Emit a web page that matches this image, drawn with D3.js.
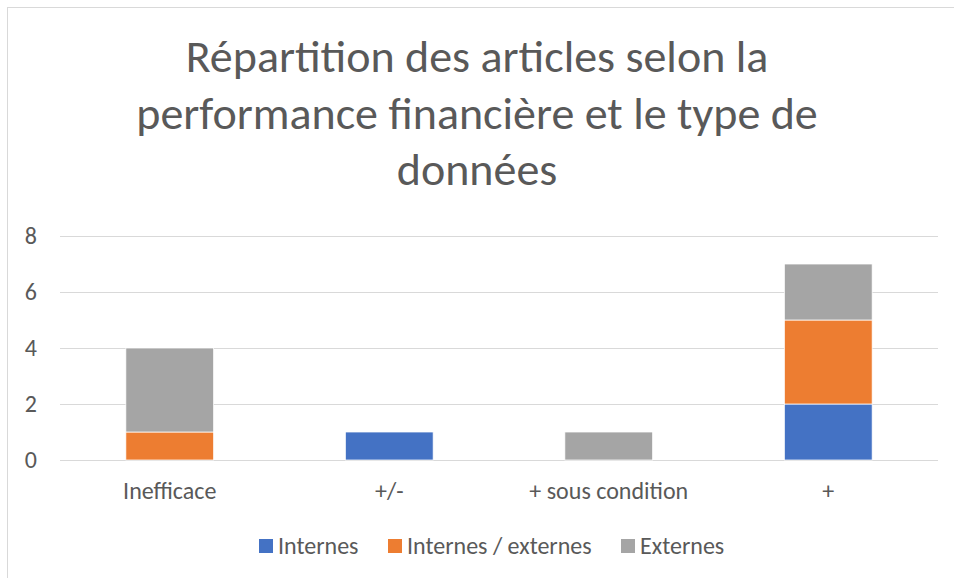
<!DOCTYPE html>
<html>
<head>
<meta charset="utf-8">
<script src="https://cdn.jsdelivr.net/npm/d3@7"></script>
<style>
  body { margin: 0; background: #fff; }
  svg text { font-family: "Carlito", "Liberation Sans", "Open Sans", sans-serif; fill: #595959; }
</style>
</head>
<body>
<div id="chart"></div>
<script>
// data
var categories = ['Inefficace', '+/-', '+ sous condition', '+']
var seriesNames = ['Internes', 'Internes / externes', 'Externes']
var internes = [0, 1, 0, 2]
var internesExternes = [1, 0, 0, 3]
var externes = [3, 0, 1, 2]
var yTicks = [0, 2, 4, 6, 8]
var colors = ['#4472C4', '#ED7D31', '#A5A5A5']
var titleLines = ['Répartition des articles selon la', 'performance financière et le type de', 'données']

var W = 954, H = 578
var svg = d3.select('#chart').append('svg')
  .attr('width', W).attr('height', H)

// chart border
svg.append('rect')
  .attr('x', 7.5).attr('y', 7.5)
  .attr('width', W + 10).attr('height', H + 10)
  .style('fill', '#fff').style('stroke', '#d9d9d9').style('stroke-width', 1)

// title
svg.append('g').selectAll('text')
  .data(titleLines).enter().append('text')
  .attr('x', 477).attr('y', function(d, i){ return 72 + i * 56.5 })
  .attr('text-anchor', 'middle')
  .style('font-size', '46px')
  .text(function(d){ return d })

var x = d3.scaleBand().domain(categories).range([60, 938]).paddingInner(0.6).paddingOuter(0.3)
var y = d3.scaleLinear().domain([0, 8]).range([460, 236])

// gridlines
svg.append('g').selectAll('line')
  .data(yTicks).enter().append('line')
  .attr('x1', 60).attr('x2', 938)
  .attr('y1', function(d){ return Math.round(y(d)) + 0.5 })
  .attr('y2', function(d){ return Math.round(y(d)) + 0.5 })
  .style('stroke', '#d9d9d9').style('stroke-width', 1)

// y labels
svg.append('g').selectAll('text')
  .data(yTicks).enter().append('text')
  .attr('x', 37).attr('y', function(d){ return y(d) })
  .attr('dy', '0.33em')
  .attr('text-anchor', 'end')
  .style('font-size', '24px')
  .text(function(d){ return d })

// stacked bars
var rows = categories.map(function(c, i){
  return { cat: c, Internes: internes[i], 'Internes / externes': internesExternes[i], Externes: externes[i] }
})
var stack = d3.stack().keys(seriesNames)(rows)

svg.append('g').selectAll('g')
  .data(stack).enter().append('g')
  .style('fill', function(d, i){ return colors[i] })
  .selectAll('rect')
  .data(function(d){ return d.filter(function(p){ return p[1] > p[0] }) })
  .enter().append('rect')
  .attr('x', function(d){ return x(d.data.cat) })
  .attr('width', x.bandwidth())
  .attr('y', function(d){ return y(d[1]) })
  .attr('height', function(d){ return y(d[0]) - y(d[1]) })
  .style('stroke', '#fff').style('stroke-width', 0.75)

// category labels
svg.append('g').selectAll('text')
  .data(categories).enter().append('text')
  .attr('x', function(d){ return x(d) + x.bandwidth() / 2 })
  .attr('y', 499)
  .attr('text-anchor', 'middle')
  .style('font-size', '24px')
  .text(function(d){ return d })

// legend
var legendX = [259, 388, 621]
var legend = svg.append('g').selectAll('g')
  .data(seriesNames).enter().append('g')
  .attr('transform', function(d, i){ return 'translate(' + legendX[i] + ',539)' })
legend.append('rect')
  .attr('width', 14).attr('height', 14)
  .style('fill', function(d, i){ return colors[i] })
legend.append('text')
  .attr('x', 19).attr('y', 15)
  .style('font-size', '24px')
  .text(function(d){ return d })
</script>
</body>
</html>
